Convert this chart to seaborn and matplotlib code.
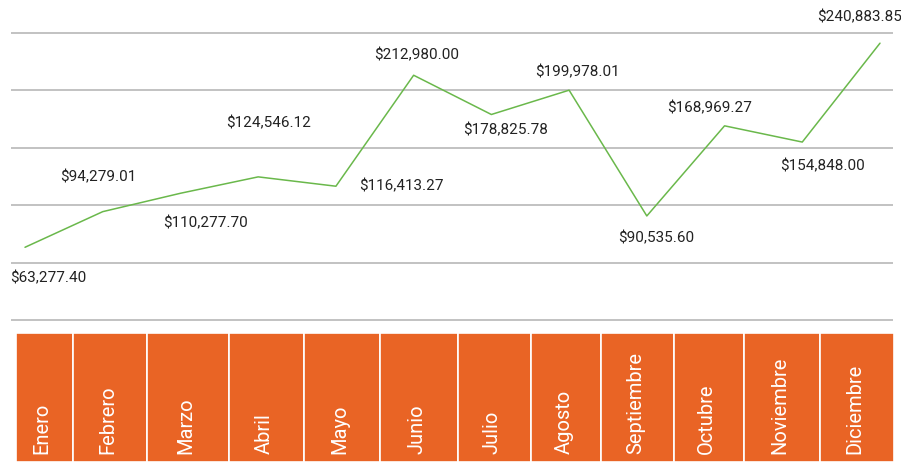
import matplotlib
matplotlib.use("Agg")
import matplotlib.pyplot as plt
import seaborn as sns
import pandas as pd

# Data

months = ["Enero", "Febrero", "Marzo", "Abril", "Mayo", "Junio",
          "Julio", "Agosto", "Septiembre", "Octubre", "Noviembre", "Diciembre"]
sales = [63277.40, 94279.01, 110277.70, 124546.12, 116413.27, 212980.00,
         178825.78, 199978.01, 90535.60, 168969.27, 154848.00, 240883.85]

# Layout: label offsets (px) from each point, table cell edges (px)
label_offsets = [(23, 31), (-4, -34), (25, 30), (10, -54), (65, 0), (3, -20),
                 (14, 16), (8, -18), (9, 22), (-15, -18), (20, 24), (-20, -26)]
cell_edges = [16, 72.5, 147, 229, 303.5, 380, 458, 531, 601, 673.5, 743.5, 820, 894]

df = pd.DataFrame({"idx": range(len(months)), "mes": months, "ventas": sales})

sns.set_theme(style="white")
plt.rcParams["font.family"] = ["Roboto", "DejaVu Sans"]

W, H = 901, 462
fig = plt.figure(figsize=(W / 100, H / 100), dpi=100)

# Line chart axes
pad = 5000
px_per_unit = (320 - 32.7) / 250000
top_px = 32.7 - pad * px_per_unit
bot_px = 320 + pad * px_per_unit
x0_px, x1_px = 11, 893
ax = fig.add_axes([x0_px / W, 1 - bot_px / H, (x1_px - x0_px) / W, (bot_px - top_px) / H])

step = (880 - 25) / 11
sns.lineplot(data=df, x="idx", y="ventas", ax=ax, color="#6ab84b", linewidth=1.1)
ax.set_xlim(-(25 - x0_px) / step, 11 + (x1_px - 880) / step)
ax.set_ylim(-pad, 250000 + pad)
ax.set_yticks(range(0, 250001, 50000))
ax.yaxis.grid(True, color="#bdbdbd", linewidth=1.3)
ax.xaxis.grid(False)
ax.set_xticks([])
ax.tick_params(left=False, labelleft=False)
ax.set_xlabel("")
ax.set_ylabel("")
for s in ax.spines.values():
    s.set_visible(False)

for i, v in enumerate(sales):
    dx, dy = label_offsets[i]
    ax.annotate(f"${v:,.2f}", (i, v), xytext=(dx * 0.72, -dy * 0.72),
                textcoords="offset points", ha="center", va="center",
                fontsize=11, color="#222222", annotation_clip=False)

# Month table
tax = fig.add_axes([0, 0, 1, 1 - 333 / H])
tax.set_xlim(0, W)
tax.set_ylim(0, 1)
tax.axis("off")
lefts = cell_edges[:-1]
widths = [b - a for a, b in zip(cell_edges[:-1], cell_edges[1:])]
tax.bar(lefts, [1] * len(lefts), width=widths, align="edge",
        color="#e96425", edgecolor="white", linewidth=1.2)
for left, w, name in zip(lefts, widths, months):
    tax.text(left + w / 2 - 2, 8 / (H - 333), name, rotation=90,
             ha="center", va="bottom", color="white", fontsize=14.5)

fig.savefig("out.png", dpi=100)
